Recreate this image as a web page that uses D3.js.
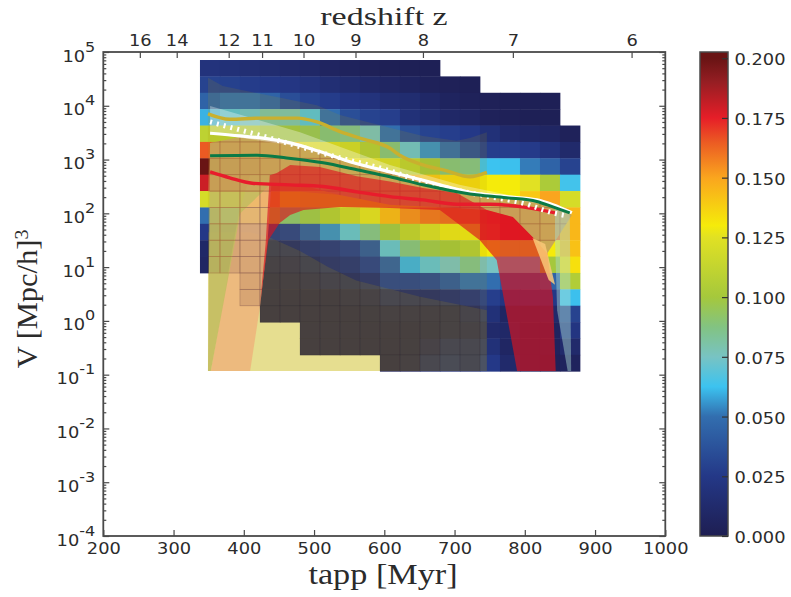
<!DOCTYPE html>
<html><head><meta charset="utf-8">
<script src="https://cdn.jsdelivr.net/npm/d3@7"></script>
<style>html,body{margin:0;padding:0;background:#fff}svg{display:block}</style>
</head><body><svg id="c" width="791" height="597"></svg>
<script>
// ---------- data ----------
const majorX = [200,300,400,500,600,700,800,900,1000];
const redshiftLabels = ["16","14","12","11","10","9","8","7","6"];
const redshiftTapp = [252,304.5,378.5,426,485,559,655,783,952];
const majorExp = [-4,-3,-2,-1,0,1,2,3,4,5];
const colorTicks = [0,0.025,0.05,0.075,0.1,0.125,0.15,0.175,0.2];
const cmapValues = [0,.025,.05,.0625,.075,.0875,.1,.125,.13,.15,.165,.175,.19,.2];
const cmapColors = ["#1e1e52","#243887","#326eaf","#3cc3f0","#78c3c3","#82c382","#a5c83c","#e1e123","#f5eb0a","#faa51e","#eb5a23","#e61e28","#961e23","#691414"];
// histogram bins: tapp column start/step, log10 V row top/step
const binT0 = 337.6, binTStep = 28.47;
const binLog0 = 4.851, binLogStep = 0.3046;
const n = null;
const heatRows = [
 [.02,.018,.016,.014,.012,.01,.007,.005,.003,.002,.002,.002,n,n,n,n,n,n,n],
 [.03,.029,.027,.025,.023,.02,.016,.013,.01,.008,.006,.004,.003,.002,n,n,n,n,n],
 [.045,.05,.05,.045,.035,.03,.027,.022,.02,.015,.014,.01,.006,.004,.003,.002,.002,.002,n],
 [.06,.068,.072,.08,.078,.068,.05,.035,.03,.028,.018,.014,.01,.008,.004,.003,.002,.002,n],
 [.11,.11,.105,.1,.098,.095,.088,.085,.076,.05,.035,.03,.028,.025,.018,.012,.01,.008,.004],
 [.165,.165,.16,.15,.14,.125,.122,.118,.105,.088,.072,.055,.048,.035,.028,.028,.026,.02,.012],
 [.2,.19,.18,.17,.16,.15,.14,.13,.125,.12,.11,.1,.088,.086,.0625,.062,.052,.045,.03],
 [.18,.175,.17,.165,.16,.16,.158,.155,.15,.15,.145,.14,.135,.135,.13,.13,.125,.103,.064],
 [.12,.125,.13,.15,.13,.128,.128,.128,.13,.13,.13,.13,.13,.13,.13,.13,.14,.15,.12],
 [.05,.06,.1,.11,.09,.097,.105,.115,.125,.145,.155,.16,.162,.162,.172,.175,.17,.155,.145],
 [.025,.03,.03,.025,.028,.042,.055,.07,.085,.098,.11,.12,.127,.128,.17,.175,.175,.16,.145],
 [.01,.012,.015,.01,.012,.018,.022,.028,.04,.07,.087,.097,.1,.105,.13,.125,.125,.13,.142],
 [.008,.008,.01,.005,.006,.01,.015,.018,.028,.043,.06,.07,.075,.085,.075,.07,.07,.1,.133],
 [n,n,.004,.002,.003,.005,.008,.01,.015,.03,.03,.032,.04,.05,.05,.04,.04,.045,.105],
 [n,n,.002,.001,.001,.001,.001,.003,.005,.012,.012,.012,.015,.02,.028,.022,.025,.025,.062],
 [n,n,n,.001,.001,.001,.001,.001,.002,.003,.003,.003,.004,.008,.018,.008,.008,.012,.03],
 [n,n,n,n,n,.001,.001,.001,.001,.001,.001,.002,.004,.005,.012,.01,.005,.006,.022],
 [n,n,n,n,n,.001,.001,.001,.001,.001,.002,.006,.012,.012,.018,.008,.005,.005,.012],
 [n,n,n,n,n,n,n,n,n,.001,.003,.012,.016,.013,.025,.012,.005,.003,.005]
];
// curves: tapp [Myr] and log10 V
const goldT = [349,380,423,476,504,537,570,608,622,655,689,722,746];
const goldV = [3.85,3.75,3.77,3.77,3.70,3.52,3.38,3.21,3.08,2.90,2.79,2.68,2.76];
const whiteT = [352,395,437,466,508,551,608,636,679,726,774,817,840,867];
const whiteV = [3.49,3.44,3.38,3.31,3.15,2.96,2.77,2.68,2.53,2.38,2.31,2.25,2.16,2.01];
const dashT = [352,395,437,480,523,608,655,703,750,797,840,861];
const dashV = [3.70,3.55,3.40,3.24,3.08,2.79,2.59,2.43,2.31,2.19,2.01,1.95];
const greenT = [352,419,461,513,561,608,655,722,774,817,840,864];
const greenV = [3.07,3.08,3.03,2.94,2.81,2.68,2.53,2.36,2.29,2.22,2.12,2.01];
const redT = [352,380,412,466,513,561,608,655,703,750,797,843];
const redV = [2.77,2.66,2.56,2.53,2.50,2.40,2.31,2.25,2.17,2.17,2.12,2.01];
// translucent envelopes: tapp, log10 V
const paleT = [349,746,746,349]; const paleV = [0.95,0.95,-0.93,-0.93];
const goldBandT = [349,370,409,456,504,537,608,655,703,722,746,746,349];
const goldBandV = [4.52,4.37,4.26,4.14,4.01,3.83,3.59,3.44,3.35,3.40,3.51,-0.93,-0.93];
const dimBandT = [349,409,437,480,520,560,651,746,746,349];
const dimBandV = [1.65,1.65,1.55,1.30,1.0,0.75,0.45,0.2,-0.93,-0.93];
const peachT = [353,393,409,440,434,423,409];
const peachV = [-0.93,2.0,2.71,2.71,1.50,0.26,-0.93];
const tanT = [352,395,437,466,508,551,608,679,726,774,817,840,867,832,811,783,746,703,608,537,480,451,437,395,353,349];
const tanV = [3.31,3.42,3.36,3.29,3.14,2.95,2.77,2.53,2.38,2.30,2.25,2.16,1.97,1.26,1.56,1.93,2.06,2.10,2.16,2.34,2.53,2.53,2.53,2.0,-0.93,-0.93];
const tanUpperT = [352,395,437,466,508,551,608,679,726,774,817,840,867,832,811,783,746,703,608,537,480,380,349];
const tanUpperV = [3.31,3.42,3.36,3.29,3.14,2.95,2.77,2.53,2.38,2.30,2.25,2.16,1.97,1.26,1.56,1.93,2.06,2.10,2.16,2.34,2.40,2.40,2.40];
const redBandT = [423,431,437,447,466,508,561,608,655,703,746,783,811,832,840,844,789,760,736,708,679,608,537,485,466,451,435];
const redBandV = [0.30,1.43,2.71,2.75,2.90,2.86,2.69,2.59,2.47,2.38,2.06,1.93,1.56,1.26,0.44,-0.93,-0.93,1.13,1.50,1.78,2.06,2.10,2.12,2.06,1.97,1.82,1.50];
const creamT = [352,480,608,707,843,864,840,726,608,480,352];
const creamV = [3.996,3.51,2.90,2.53,2.16,2.01,2.14,2.38,2.77,3.24,3.49];
const peachTipT = [811,829,843,834];
const peachTipV = [1.54,1.43,0.67,0.76];
const iceT = [843,864,866,861,846,843];
const iceV = [2.16,2.01,-0.93,-0.93,0.20,1.50];
// ---------- layout ----------
const m = {l:103.3,r:665.3,t:52,b:536};
const svg = d3.select("#c");
const x = d3.scaleLinear().domain([200,1000]).range([m.l,m.r]);
const y = d3.scaleLog().domain([1e-4,1e5]).range([m.b,m.t]);
const yl = v => y(Math.pow(10,v));
const color = d3.scaleLinear().domain(cmapValues).range(cmapColors).clamp(true);
const ink = "#4a4a4a", txt = "#2b2b2b";
const STRETCH = 1.19;

const polyLine = d3.line().x(d=>x(d[0])).y(d=>yl(d[1]));
const smooth = d3.line().x(d=>x(d[0])).y(d=>yl(d[1])).curve(d3.curveMonotoneX);
const pts = (a,b)=>a.map((t,i)=>[t,b[i]]);
function band(g,T,V,fill,op){return g.append("path").attr("d",polyLine(pts(T,V))+"Z").attr("fill",fill).attr("fill-opacity",op).attr("stroke","none");}

const plot = svg.append("g");
band(plot,paleT,paleV,"#ffffc8",1);

const cells = [];
heatRows.forEach((row,r)=>row.forEach((v,c)=>{ if(v!==null) cells.push({r,c,v}); }));
const cellX0=d=>x(binT0+d.c*binTStep), cellX1=d=>x(binT0+(d.c+1)*binTStep);
const cellY0=d=>yl(binLog0-d.r*binLogStep), cellY1=d=>yl(binLog0-(d.r+1)*binLogStep);
plot.append("g").selectAll("rect").data(cells).join("rect")
  .attr("x",cellX0).attr("y",cellY0)
  .attr("width",d=>cellX1(d)-cellX0(d)+0.4).attr("height",d=>cellY1(d)-cellY0(d)+0.4)
  .attr("fill",d=>color(d.v));

const defs = svg.append("defs");
function seams(id,T,V,col,op){
  defs.append("clipPath").attr("id",id).append("path").attr("d",polyLine(pts(T,V))+"Z");
  plot.append("g").attr("clip-path",`url(#${id})`).selectAll("rect").data(cells).join("rect")
    .attr("x",cellX0).attr("y",cellY0)
    .attr("width",d=>cellX1(d)-cellX0(d)).attr("height",d=>cellY1(d)-cellY0(d))
    .attr("fill","none").attr("stroke",col).attr("stroke-opacity",op).attr("stroke-width",0.7);
}
band(plot,goldBandT,goldBandV,"#ab9210",0.14);
band(plot,dimBandT,dimBandV,"#ab9210",0.18);
seams("dimClip",dimBandT,dimBandV,"#2a2430",0.15);
band(plot,peachT,peachV,"#eeb47b",0.87);
seams("peachClip",peachT,peachV,"#8a5a50",0.5);
band(plot,tanT,tanV,"#c3bd60",0.9);
band(plot,tanUpperT,tanUpperV,"#cd8c50",0.45);
seams("tanClip",tanT,tanV,"#a8693c",0.55);
band(plot,redBandT,redBandV,"#dc141e",0.65);
band(plot,peachTipT,peachTipV,"#fac878",0.85);
band(plot,iceT,iceV,"#aadcd2",0.45);
band(plot,creamT,creamV,"#ffffff",0.32);

function curve(T,V,col,w,dash){
  const p = plot.append("path").attr("d",smooth(pts(T,V))).attr("fill","none").attr("stroke",col).attr("stroke-width",w);
  if(dash) p.attr("stroke-dasharray",dash);
}
curve(goldT,goldV,"#c9b02e",3.4);
curve(redT,redV,"#e81c2c",3.4);
curve(dashT,dashV,"#ffffff",5,"2 5");
curve(whiteT,whiteV,"#ffffff",3.2);
curve(greenT,greenV,"#0a7a46",3);

// ---------- axes ----------
function stretchText(sel,tx,ty){ sel.attr("x",0).attr("y",0).attr("dy",null).attr("transform",`translate(${tx},${ty}) scale(${STRETCH},1)`); }
function styleAxis(g){ g.select(".domain").remove(); g.selectAll("line").attr("stroke",ink).attr("stroke-width",1.2);
  g.selectAll("text").attr("fill",txt).attr("font-family","'DejaVu Sans'").attr("font-size",15); }

const gB = svg.append("g").attr("transform",`translate(0,${m.b})`)
  .call(d3.axisBottom(x).tickValues(majorX).tickSize(-6).tickPadding(0).tickFormat(d3.format("d")));
styleAxis(gB); stretchText(gB.selectAll("text"),0,18);

const gT = svg.append("g").attr("transform",`translate(0,${m.t})`)
  .call(d3.axisTop(x).tickValues(redshiftTapp).tickSize(-6).tickPadding(0).tickFormat((d,i)=>redshiftLabels[i]));
styleAxis(gT); stretchText(gT.selectAll("text"),0,-6);

const minorVals = [];
for(let e=-4;e<5;e++) for(let k=2;k<10;k++) minorVals.push(k*Math.pow(10,e));
const majorVals = majorExp.map(e=>Math.pow(10,e));
const gLm = svg.append("g").attr("transform",`translate(${m.l},0)`)
  .call(d3.axisLeft(y).tickValues(minorVals).tickSize(-3).tickFormat(""));
styleAxis(gLm);
const gL = svg.append("g").attr("transform",`translate(${m.l},0)`)
  .call(d3.axisLeft(y).tickValues(majorVals).tickSize(-6).tickFormat(""));
styleAxis(gL);
gL.selectAll("g.tick").each(function(d,i){
  const e = majorExp[i];
  d3.select(this).select("text").remove();
  const t = d3.select(this).append("text").attr("text-anchor","end").attr("fill",txt)
    .attr("font-family","'DejaVu Sans'").attr("font-size",15)
    .attr("transform",`translate(-8,9) scale(${STRETCH},1)`);
  t.append("tspan").text("10");
  t.append("tspan").attr("dy",-10).attr("font-size",13.5).text(e);
});

const gR = svg.append("g").attr("transform",`translate(${m.r},0)`)
  .call(d3.axisRight(y).tickValues(majorVals).tickSize(-6).tickFormat(""));
styleAxis(gR);
const gRm = svg.append("g").attr("transform",`translate(${m.r},0)`)
  .call(d3.axisRight(y).tickValues(minorVals).tickSize(-3).tickFormat(""));
styleAxis(gRm);

svg.append("rect").attr("x",m.l).attr("y",m.t).attr("width",m.r-m.l).attr("height",m.b-m.t)
  .attr("fill","none").attr("stroke",ink).attr("stroke-width",1.8);

// titles
function serif(tx,ty,rot,size,sx){
  return svg.append("text").attr("transform",`translate(${tx},${ty}) rotate(${rot}) scale(${sx},1)`)
    .attr("text-anchor","middle").attr("font-family","'Liberation Serif'").attr("font-size",size).attr("fill",txt);
}
serif(384,25,0,25,1.36).text("redshift z");
serif(383,584,0,29,1.18).text("tapp [Myr]");
const yt = serif(37,299,-90,29,1.05);
yt.append("tspan").text("V [Mpc/h]");
yt.append("tspan").attr("dy",-9).attr("font-size",19).text("3");

// ---------- colour bar ----------
const cb = {x0:700,x1:728};
const cy = d3.scaleLinear().domain([0,0.2026]).range([m.b,m.t]);
const grad = defs.append("linearGradient").attr("id","cbGrad").attr("x1",0).attr("x2",0).attr("y1",1).attr("y2",0);
grad.selectAll("stop").data(cmapValues).join("stop")
  .attr("offset",d=>d/0.2026).attr("stop-color",(d,i)=>cmapColors[i]);
svg.append("rect").attr("x",cb.x0).attr("y",m.t).attr("width",cb.x1-cb.x0).attr("height",m.b-m.t)
  .attr("fill","url(#cbGrad)").attr("stroke",ink).attr("stroke-width",1.5);
const gC = svg.append("g").attr("transform",`translate(${cb.x1},0)`)
  .call(d3.axisRight(cy).tickValues(colorTicks).tickSize(-6).tickPadding(0).tickFormat(d3.format(".3f")));
styleAxis(gC); gC.selectAll("line").attr("stroke","#333");
gC.selectAll("text").attr("text-anchor","start").attr("x",0).attr("y",0).attr("dy",null)
  .attr("transform",`translate(6.5,6.5) scale(${STRETCH},1)`);
</script></body></html>
